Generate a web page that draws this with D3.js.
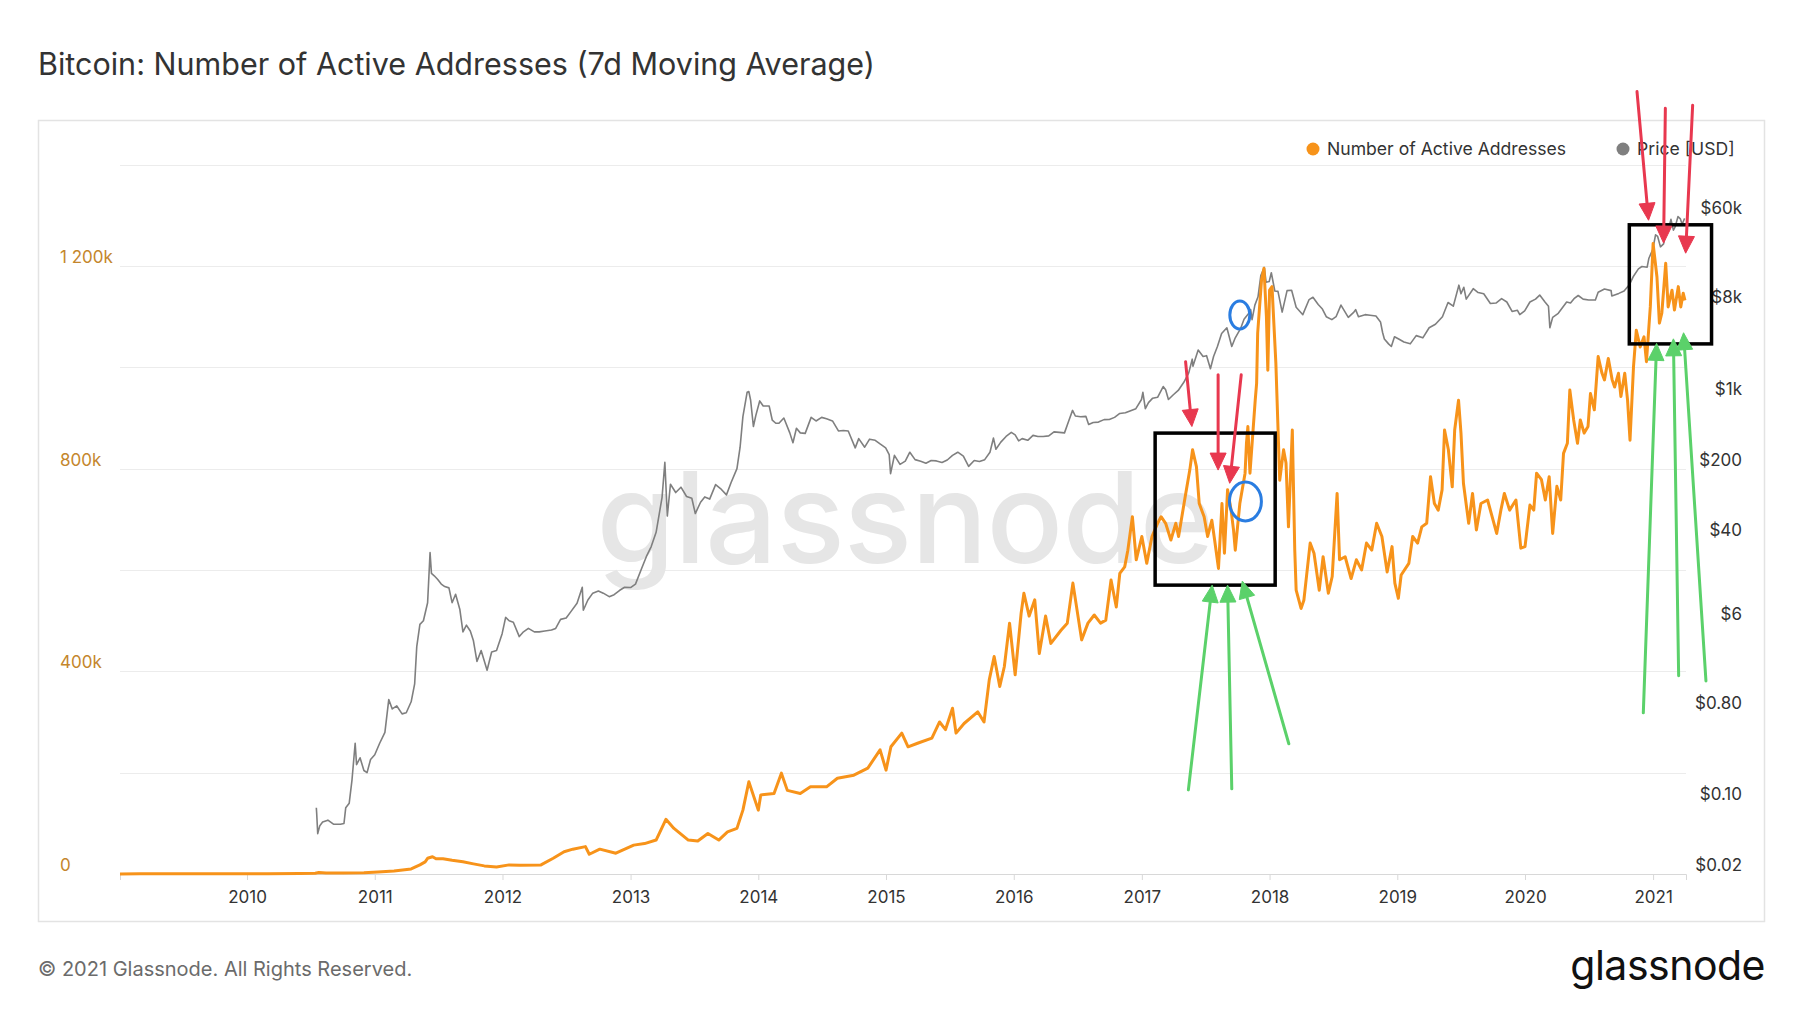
<!DOCTYPE html>
<html>
<head>
<meta charset="utf-8">
<script src="https://cdn.jsdelivr.net/npm/d3@7/dist/d3.min.js"></script>
<style>
  html, body { margin: 0; padding: 0; background: #fff; }
  svg { display: block; font-family: Inter, "Open Sans", "DejaVu Sans", sans-serif; }
</style>
</head>
<body>
<svg id="chart" width="1800" height="1013"></svg>
<script>
// ---------------- DATA ----------------
const YEARS = [2010, 2011, 2012, 2013, 2014, 2015, 2016, 2017, 2018, 2019, 2020, 2021];
const LEFT_TICKS = [0, 400000, 800000, 1200000];
const LEFT_LABELS = ["0", "400k", "800k", "1 200k"];
const GRID_VALUES = [200000, 400000, 600000, 800000, 1000000, 1200000, 1400000];
const RIGHT_TICKS = [0.02, 0.1, 0.8, 6, 40, 200, 1000, 8000, 60000];
const RIGHT_LABELS = ["$0.02", "$0.10", "$0.80", "$6", "$40", "$200", "$1k", "$8k", "$60k"];
const SERIES_NAMES = ["Number of Active Addresses", "Price [USD]"];

// Number of Active Addresses (7d MA)
const activeAddresses = [
  ["2009-01-03", 50], ["2009-03-01", 400], ["2009-06-01", 600], ["2009-09-01", 500], ["2009-12-01", 700],
  ["2010-03-01", 700], ["2010-06-01", 900], ["2010-07-15", 1500], ["2010-07-25", 2800], ["2010-08-15", 1800],
  ["2010-10-01", 2000], ["2010-12-01", 2500], ["2011-01-10", 4000], ["2011-02-25", 6000], ["2011-04-15", 10000],
  ["2011-05-10", 18000], ["2011-05-25", 24000], ["2011-06-01", 31000], ["2011-06-15", 34000], ["2011-06-25", 30000],
  ["2011-07-15", 30000], ["2011-08-10", 27000], ["2011-09-10", 24000], ["2011-10-10", 20000], ["2011-11-10", 16000],
  ["2011-12-15", 14000], ["2012-01-20", 18000], ["2012-02-20", 17500], ["2012-04-20", 18000], ["2012-05-25", 31000],
  ["2012-06-25", 44000], ["2012-07-20", 49000], ["2012-08-25", 54000], ["2012-09-05", 39000], ["2012-10-05", 49000],
  ["2012-11-20", 41000], ["2013-01-10", 57000], ["2013-02-10", 60000], ["2013-03-15", 67000], ["2013-04-12", 108000],
  ["2013-05-05", 90000], ["2013-06-15", 67000], ["2013-07-12", 65000], ["2013-08-10", 80000], ["2013-09-10", 67000],
  ["2013-10-05", 83000], ["2013-11-01", 90000], ["2013-11-18", 126000], ["2013-12-05", 182000], ["2014-01-01", 126000],
  ["2014-01-08", 156000], ["2014-02-15", 159000], ["2014-03-08", 199000], ["2014-03-25", 165000], ["2014-05-01", 159000],
  ["2014-05-30", 172000], ["2014-07-15", 172000], ["2014-08-15", 189000], ["2014-10-01", 195000], ["2014-11-10", 209000],
  ["2014-12-15", 245000], ["2015-01-01", 205000], ["2015-01-15", 251000], ["2015-02-15", 278000], ["2015-03-05", 251000],
  ["2015-04-01", 258000], ["2015-05-12", 268000], ["2015-06-03", 300000], ["2015-06-20", 285000], ["2015-07-10", 327000],
  ["2015-07-20", 278000], ["2015-08-12", 297000], ["2015-09-20", 320000], ["2015-10-08", 300000], ["2015-10-23", 383000],
  ["2015-11-06", 429000], ["2015-11-22", 370000], ["2015-12-05", 409000], ["2015-12-20", 495000], ["2016-01-05", 393000],
  ["2016-01-22", 514000], ["2016-01-30", 554000], ["2016-02-14", 509000], ["2016-03-01", 541000], ["2016-03-14", 435000],
  ["2016-04-01", 509000], ["2016-04-16", 455000], ["2016-05-15", 481000], ["2016-06-02", 495000], ["2016-06-18", 574000],
  ["2016-07-13", 462000], ["2016-07-31", 495000], ["2016-08-18", 511000], ["2016-09-05", 495000], ["2016-09-20", 501000],
  ["2016-10-05", 580000], ["2016-10-20", 527000], ["2016-10-30", 593000], ["2016-11-13", 606000], ["2016-11-22", 639000],
  ["2016-12-05", 705000], ["2016-12-16", 620000], ["2017-01-01", 666000], ["2017-01-15", 613000], ["2017-01-30", 666000],
  ["2017-02-15", 692000], ["2017-02-25", 705000], ["2017-03-10", 692000], ["2017-03-25", 659000], ["2017-04-08", 692000],
  ["2017-04-16", 666000], ["2017-05-05", 745000], ["2017-05-18", 797000], ["2017-05-26", 837000], ["2017-06-06", 804000],
  ["2017-06-14", 731000], ["2017-06-28", 705000], ["2017-07-08", 666000], ["2017-07-20", 698000], ["2017-07-28", 659000],
  ["2017-08-08", 603000], ["2017-08-18", 731000], ["2017-08-25", 633000], ["2017-09-03", 758000], ["2017-09-13", 718000],
  ["2017-09-20", 679000], ["2017-09-25", 639000], ["2017-10-08", 731000], ["2017-10-23", 791000], ["2017-10-27", 850000],
  ["2017-10-31", 883000], ["2017-11-06", 791000], ["2017-11-21", 935000], ["2017-11-25", 968000], ["2017-11-28", 1067000],
  ["2017-12-09", 1172000], ["2017-12-16", 1195000], ["2017-12-23", 1100000], ["2017-12-27", 994000], ["2018-01-01", 1152000],
  ["2018-01-08", 1159000], ["2018-01-19", 1008000], ["2018-01-30", 777000], ["2018-02-10", 837000], ["2018-02-17", 811000],
  ["2018-02-24", 685000], ["2018-03-07", 876000], ["2018-03-14", 639000], ["2018-03-18", 560000], ["2018-04-01", 524000],
  ["2018-04-09", 540000], ["2018-04-27", 653000], ["2018-05-08", 633000], ["2018-05-23", 560000], ["2018-06-03", 626000],
  ["2018-06-18", 554000], ["2018-06-29", 587000], ["2018-07-13", 751000], ["2018-07-20", 620000], ["2018-08-05", 626000],
  ["2018-08-22", 583000], ["2018-09-06", 620000], ["2018-09-21", 600000], ["2018-10-05", 653000], ["2018-10-20", 639000],
  ["2018-11-03", 692000], ["2018-11-18", 666000], ["2018-12-03", 596000], ["2018-12-17", 646000], ["2018-12-25", 574000],
  ["2019-01-04", 544000], ["2019-01-12", 590000], ["2019-02-03", 613000], ["2019-02-14", 666000], ["2019-02-28", 653000],
  ["2019-03-12", 685000], ["2019-03-26", 692000], ["2019-04-06", 784000], ["2019-04-17", 731000], ["2019-04-28", 718000],
  ["2019-05-09", 758000], ["2019-05-16", 876000], ["2019-05-27", 837000], ["2019-06-07", 764000], ["2019-06-14", 876000],
  ["2019-06-25", 935000], ["2019-07-02", 870000], ["2019-07-09", 771000], ["2019-07-24", 692000], ["2019-08-04", 751000],
  ["2019-08-15", 679000], ["2019-08-28", 731000], ["2019-09-16", 738000], ["2019-10-12", 672000], ["2019-10-24", 718000],
  ["2019-11-03", 751000], ["2019-11-18", 718000], ["2019-12-06", 738000], ["2019-12-20", 643000], ["2020-01-01", 646000],
  ["2020-01-15", 728000], ["2020-01-26", 718000], ["2020-02-03", 791000], ["2020-02-17", 778000], ["2020-02-28", 738000],
  ["2020-03-10", 784000], ["2020-03-20", 672000], ["2020-04-01", 765000], ["2020-04-12", 738000], ["2020-04-20", 830000],
  ["2020-05-01", 850000], ["2020-05-08", 955000], ["2020-05-19", 896000], ["2020-05-30", 850000], ["2020-06-07", 896000],
  ["2020-06-18", 870000], ["2020-06-29", 883000], ["2020-07-06", 948000], ["2020-07-17", 916000], ["2020-07-28", 1021000],
  ["2020-08-08", 988000], ["2020-08-15", 975000], ["2020-08-26", 1017000], ["2020-09-06", 975000], ["2020-09-13", 961000],
  ["2020-09-24", 988000], ["2020-10-01", 942000], ["2020-10-12", 988000], ["2020-10-20", 935000], ["2020-10-27", 856000],
  ["2020-11-06", 1001000], ["2020-11-14", 1073000], ["2020-11-25", 1040000], ["2020-12-06", 1060000], ["2020-12-13", 1011000],
  ["2020-12-24", 1119000], ["2021-01-01", 1244000], ["2021-01-12", 1178000], ["2021-01-19", 1087000], ["2021-01-26", 1107000],
  ["2021-02-06", 1205000], ["2021-02-13", 1119000], ["2021-02-24", 1152000], ["2021-03-03", 1113000], ["2021-03-14", 1159000],
  ["2021-03-21", 1119000], ["2021-03-28", 1146000], ["2021-04-02", 1132000]
];

// Price [USD]
const price = [
  ["2010-07-18", 0.09], ["2010-07-19", 0.08], ["2010-07-22", 0.05], ["2010-07-28", 0.06], ["2010-08-05", 0.065],
  ["2010-08-20", 0.068], ["2010-09-05", 0.062], ["2010-09-25", 0.062], ["2010-10-05", 0.063], ["2010-10-10", 0.09],
  ["2010-10-20", 0.10], ["2010-10-28", 0.17], ["2010-11-06", 0.39], ["2010-11-10", 0.24], ["2010-11-20", 0.28],
  ["2010-12-01", 0.21], ["2010-12-10", 0.20], ["2010-12-20", 0.27], ["2011-01-01", 0.30], ["2011-01-15", 0.39],
  ["2011-01-30", 0.50], ["2011-02-10", 1.05], ["2011-02-20", 0.85], ["2011-03-05", 0.91], ["2011-03-20", 0.76],
  ["2011-04-01", 0.78], ["2011-04-15", 1.00], ["2011-04-25", 1.50], ["2011-05-01", 3.5], ["2011-05-10", 5.8],
  ["2011-05-20", 6.3], ["2011-06-01", 9.5], ["2011-06-08", 29.6], ["2011-06-12", 18.5], ["2011-06-20", 17.5],
  ["2011-06-30", 16.1], ["2011-07-10", 14.5], ["2011-07-20", 13.7], ["2011-08-01", 13.3], ["2011-08-10", 9.5],
  ["2011-08-20", 11.5], ["2011-09-01", 8.2], ["2011-09-10", 4.9], ["2011-09-20", 5.7], ["2011-10-01", 5.0],
  ["2011-10-10", 4.0], ["2011-10-20", 2.5], ["2011-11-01", 3.2], ["2011-11-18", 2.05], ["2011-12-01", 3.1],
  ["2011-12-15", 3.2], ["2011-12-31", 4.7], ["2012-01-10", 6.8], ["2012-01-20", 6.3], ["2012-02-01", 6.1],
  ["2012-02-18", 4.4], ["2012-03-01", 4.9], ["2012-03-15", 5.3], ["2012-04-01", 4.9], ["2012-04-15", 4.9],
  ["2012-05-01", 5.0], ["2012-05-20", 5.1], ["2012-06-01", 5.3], ["2012-06-15", 6.5], ["2012-07-01", 6.7],
  ["2012-07-15", 7.8], ["2012-08-01", 9.4], ["2012-08-16", 13.5], ["2012-08-19", 8.0], ["2012-09-01", 10.1],
  ["2012-09-15", 11.8], ["2012-10-01", 12.4], ["2012-10-15", 11.8], ["2012-11-01", 10.9], ["2012-11-15", 11.4],
  ["2012-12-01", 12.6], ["2012-12-15", 13.5], ["2013-01-01", 13.4], ["2013-01-15", 14.5], ["2013-02-01", 20.4],
  ["2013-02-15", 27], ["2013-03-01", 34], ["2013-03-15", 47], ["2013-04-01", 104], ["2013-04-09", 230],
  ["2013-04-16", 68], ["2013-04-25", 140], ["2013-05-10", 116], ["2013-05-25", 131], ["2013-06-10", 106],
  ["2013-06-25", 102], ["2013-07-05", 72], ["2013-07-20", 93], ["2013-08-01", 105], ["2013-08-15", 100],
  ["2013-09-01", 139], ["2013-09-15", 127], ["2013-10-02", 110], ["2013-10-15", 145], ["2013-11-01", 200],
  ["2013-11-10", 325], ["2013-11-18", 650], ["2013-11-30", 1130], ["2013-12-05", 1150], ["2013-12-10", 950],
  ["2013-12-18", 520], ["2013-12-25", 670], ["2014-01-05", 930], ["2014-01-15", 830], ["2014-02-01", 830],
  ["2014-02-10", 600], ["2014-02-20", 560], ["2014-03-01", 560], ["2014-03-15", 630], ["2014-04-01", 450],
  ["2014-04-10", 360], ["2014-04-20", 500], ["2014-05-01", 450], ["2014-05-15", 445], ["2014-06-01", 640],
  ["2014-06-15", 590], ["2014-07-01", 640], ["2014-07-15", 620], ["2014-08-01", 590], ["2014-08-18", 470],
  ["2014-09-01", 475], ["2014-09-15", 470], ["2014-10-05", 320], ["2014-10-15", 395], ["2014-11-01", 325],
  ["2014-11-15", 390], ["2014-12-01", 380], ["2014-12-15", 350], ["2014-12-31", 320], ["2015-01-10", 275],
  ["2015-01-14", 178], ["2015-01-25", 270], ["2015-02-10", 220], ["2015-02-25", 237], ["2015-03-10", 290],
  ["2015-03-25", 245], ["2015-04-10", 236], ["2015-04-25", 226], ["2015-05-10", 240], ["2015-05-25", 238],
  ["2015-06-10", 230], ["2015-06-25", 243], ["2015-07-10", 270], ["2015-07-25", 290], ["2015-08-10", 265],
  ["2015-08-25", 210], ["2015-09-10", 240], ["2015-09-25", 235], ["2015-10-10", 245], ["2015-10-25", 290],
  ["2015-11-04", 400], ["2015-11-11", 310], ["2015-11-25", 365], ["2015-12-10", 415], ["2015-12-25", 455],
  ["2016-01-05", 430], ["2016-01-15", 375], ["2016-01-25", 395], ["2016-02-10", 380], ["2016-02-25", 425],
  ["2016-03-10", 415], ["2016-03-25", 415], ["2016-04-10", 420], ["2016-04-25", 460], ["2016-05-10", 455],
  ["2016-05-25", 450], ["2016-06-05", 575], ["2016-06-17", 750], ["2016-06-25", 660], ["2016-07-10", 650],
  ["2016-07-25", 655], ["2016-08-02", 545], ["2016-08-15", 570], ["2016-08-30", 575], ["2016-09-15", 608],
  ["2016-09-30", 610], ["2016-10-15", 640], ["2016-10-30", 700], ["2016-11-15", 710], ["2016-11-30", 745],
  ["2016-12-15", 780], ["2016-12-31", 960], ["2017-01-04", 1130], ["2017-01-11", 780], ["2017-01-20", 895],
  ["2017-02-01", 990], ["2017-02-15", 1010], ["2017-03-03", 1290], ["2017-03-10", 1200], ["2017-03-18", 960],
  ["2017-04-01", 1070], ["2017-04-15", 1180], ["2017-05-01", 1420], ["2017-05-15", 1760], ["2017-05-25", 2400],
  ["2017-05-27", 2050], ["2017-06-11", 2950], ["2017-06-25", 2550], ["2017-07-05", 2600], ["2017-07-16", 1930],
  ["2017-07-25", 2550], ["2017-08-05", 3200], ["2017-08-17", 4300], ["2017-09-01", 4900], ["2017-09-15", 3200],
  ["2017-09-25", 3900], ["2017-10-10", 4800], ["2017-10-20", 5950], ["2017-11-01", 6700], ["2017-11-08", 7400],
  ["2017-11-12", 5900], ["2017-11-20", 8200], ["2017-11-29", 9900], ["2017-12-07", 16000], ["2017-12-17", 19300],
  ["2017-12-22", 13800], ["2017-12-31", 14000], ["2018-01-06", 17100], ["2018-01-16", 11300], ["2018-01-25", 11200],
  ["2018-02-06", 7000], ["2018-02-20", 11400], ["2018-03-05", 11500], ["2018-03-18", 7800], ["2018-04-01", 6900],
  ["2018-04-06", 6600], ["2018-04-24", 9300], ["2018-05-05", 9800], ["2018-05-20", 8300], ["2018-06-01", 7500],
  ["2018-06-12", 6300], ["2018-06-28", 5900], ["2018-07-10", 6300], ["2018-07-24", 8200], ["2018-08-14", 6200],
  ["2018-08-30", 7000], ["2018-09-04", 7400], ["2018-09-12", 6300], ["2018-10-01", 6600], ["2018-10-15", 6500],
  ["2018-11-01", 6400], ["2018-11-14", 5600], ["2018-11-20", 4400], ["2018-11-25", 3800], ["2018-12-07", 3400],
  ["2018-12-15", 3200], ["2018-12-24", 4000], ["2019-01-05", 3800], ["2019-01-20", 3550], ["2019-02-07", 3400],
  ["2019-02-24", 4100], ["2019-03-15", 3900], ["2019-04-02", 4900], ["2019-04-20", 5300], ["2019-05-10", 6300],
  ["2019-05-26", 8700], ["2019-06-10", 8000], ["2019-06-26", 12900], ["2019-07-02", 10600], ["2019-07-10", 12300],
  ["2019-07-17", 9400], ["2019-08-06", 11900], ["2019-08-20", 10900], ["2019-09-05", 10600], ["2019-09-24", 8500],
  ["2019-10-10", 8600], ["2019-10-26", 9500], ["2019-11-10", 8800], ["2019-11-25", 7100], ["2019-12-10", 7300],
  ["2019-12-17", 6600], ["2019-12-31", 7200], ["2020-01-15", 8800], ["2020-01-31", 9400], ["2020-02-12", 10300],
  ["2020-02-27", 8800], ["2020-03-08", 8000], ["2020-03-12", 4900], ["2020-03-20", 6200], ["2020-04-05", 6800],
  ["2020-04-29", 8800], ["2020-05-10", 8600], ["2020-05-20", 9500], ["2020-06-01", 10200], ["2020-06-15", 9400],
  ["2020-07-01", 9200], ["2020-07-20", 9200], ["2020-07-28", 11000], ["2020-08-15", 11800], ["2020-09-03", 11400],
  ["2020-09-05", 10100], ["2020-09-25", 10700], ["2020-10-10", 11300], ["2020-10-25", 13000], ["2020-11-05", 15600],
  ["2020-11-20", 18700], ["2020-11-30", 19700], ["2020-12-15", 19400], ["2020-12-20", 23800], ["2020-12-31", 29000],
  ["2021-01-08", 40500], ["2021-01-14", 39000], ["2021-01-22", 30800], ["2021-01-31", 33000], ["2021-02-08", 46000],
  ["2021-02-15", 47900], ["2021-02-21", 57500], ["2021-02-28", 45000], ["2021-03-05", 48500], ["2021-03-13", 61200],
  ["2021-03-20", 58100], ["2021-03-25", 51500], ["2021-04-01", 58800]
];

// Hand-drawn annotations, in data coordinates (date, left-axis value)
const boxes = [
  { from: ["2017-02-08", 870000], to: ["2018-01-17", 570000] },
  { from: ["2020-10-25", 1281000], to: ["2021-06-17", 1046000] }
];
const redArrows = [
  { from: ["2017-05-06", 1011000], to: ["2017-05-24", 883000] },
  { from: ["2017-08-07", 985000], to: ["2017-08-07", 797000] },
  { from: ["2017-10-12", 985000], to: ["2017-09-09", 771000] },
  { from: ["2020-11-16", 1544000], to: ["2020-12-19", 1290000] },
  { from: ["2021-02-05", 1511000], to: ["2021-01-31", 1245000] },
  { from: ["2021-04-24", 1517000], to: ["2021-04-04", 1225000] }
];
const greenArrows = [
  { from: ["2017-05-14", 166000], to: ["2017-07-21", 570000] },
  { from: ["2017-09-15", 168000], to: ["2017-09-03", 570000] },
  { from: ["2018-02-25", 257000], to: ["2017-10-15", 578000] },
  { from: ["2020-12-04", 318000], to: ["2021-01-11", 1047000] },
  { from: ["2021-03-15", 391000], to: ["2021-02-28", 1056000] },
  { from: ["2021-06-01", 381000], to: ["2021-03-29", 1068000] }
];
const blueEllipses = [
  { at: ["2017-10-08", 1103000], rx: 10, ry: 14 },
  { at: ["2017-10-24", 735000], rx: 16, ry: 19.5 }
];

// ---------------- CHART ----------------
const svg = d3.select("#chart");
const parse = d3.utcParse("%Y-%m-%d");

const plot = { left: 120, right: 1686, top: 164.5, bottom: 874 };

const x = d3.scaleUtc()
  .domain([parse("2009-01-03"), parse("2021-04-05")])
  .range([plot.left, plot.right]);
const yL = d3.scaleLinear().domain([0, 1400000]).range([plot.bottom, plot.top]);
const yR = d3.scaleLog().domain([0.02, 200000]).range([plot.bottom, plot.top]);

const ORANGE = "#f7931a";
const GREY = "#7f7f7f";

// Title
svg.append("text")
  .attr("x", 38).attr("y", 75)
  .attr("font-size", 30.5).attr("font-weight", 400).attr("fill", "#333")
  .text("Bitcoin: Number of Active Addresses (7d Moving Average)");

// Frame
svg.append("rect")
  .attr("x", 38.5).attr("y", 120.5).attr("width", 1726).attr("height", 801)
  .attr("fill", "none").attr("stroke", "#e3e3e3").attr("stroke-width", 1.5);

// Gridlines
svg.append("g").selectAll("line").data(GRID_VALUES).join("line")
  .attr("x1", plot.left).attr("x2", plot.right)
  .attr("y1", d => Math.round(yL(d)) + 0.5).attr("y2", d => Math.round(yL(d)) + 0.5)
  .attr("stroke", "#ececec").attr("stroke-width", 1);

// Watermark
svg.append("text")
  .attr("x", 905).attr("y", 563)
  .attr("text-anchor", "middle")
  .attr("font-size", 127).attr("font-weight", 500)
  .attr("fill", "#e6e6e6")
  .attr("letter-spacing", -1)
  .text("glassnode");

// X axis
const xAxis = d3.axisBottom(x)
  .tickValues(YEARS.map(yr => parse(yr + "-01-01")))
  .tickFormat(d3.utcFormat("%Y"))
  .tickSize(6);
const gx = svg.append("g").attr("transform", `translate(0,${plot.bottom})`).call(xAxis);
gx.select(".domain").attr("stroke", "#d8d8d8");
gx.selectAll(".tick line").attr("stroke", "#d8d8d8");
gx.selectAll(".tick text")
  .attr("y", 23).attr("dy", "0.35em")
  .attr("font-size", 17).attr("fill", "#333")
  .attr("font-family", "Inter, 'Open Sans', sans-serif");

// Left axis labels
svg.append("g").selectAll("text").data(LEFT_TICKS).join("text")
  .attr("x", 60).attr("y", d => yL(d) - 9).attr("dy", "0.35em")
  .attr("font-size", 17).attr("fill", "#c4862c")
  .text((d, i) => LEFT_LABELS[i]);

// Right axis labels
svg.append("g").selectAll("text").data(RIGHT_TICKS).join("text")
  .attr("x", 1742).attr("y", d => yR(d) - 9).attr("dy", "0.35em")
  .attr("text-anchor", "end")
  .attr("font-size", 17).attr("fill", "#333")
  .text((d, i) => RIGHT_LABELS[i]);

// Lines
const priceLine = d3.line().x(d => x(parse(d[0]))).y(d => yR(d[1]));
const addrLine = d3.line().x(d => x(parse(d[0]))).y(d => yL(d[1]));

svg.append("path").datum(price)
  .attr("d", priceLine).attr("fill", "none")
  .attr("stroke", GREY).attr("stroke-width", 1.6).attr("stroke-linejoin", "round");

svg.append("path").datum(activeAddresses)
  .attr("d", addrLine).attr("fill", "none")
  .attr("stroke", ORANGE).attr("stroke-width", 3).attr("stroke-linejoin", "round");

// Legend
const legend = svg.append("g");
const legendItems = [
  { name: SERIES_NAMES[0], color: ORANGE, cx: 1313 },
  { name: SERIES_NAMES[1], color: GREY, cx: 1623 }
];
legendItems.forEach(it => {
  legend.append("circle").attr("cx", it.cx).attr("cy", 149).attr("r", 6.5).attr("fill", it.color);
  legend.append("text").attr("x", it.cx + 14).attr("y", 149).attr("dy", "0.35em")
    .attr("font-size", 17.6).attr("fill", "#333").text(it.name);
});

// Annotations
const P = p => [x(parse(p[0])), yL(p[1])];
const ann = svg.append("g");

boxes.forEach(b => {
  const [x0, y0] = P(b.from), [x1, y1] = P(b.to);
  ann.append("rect")
    .attr("x", Math.min(x0, x1)).attr("y", Math.min(y0, y1))
    .attr("width", Math.abs(x1 - x0)).attr("height", Math.abs(y1 - y0))
    .attr("fill", "none").attr("stroke", "#000").attr("stroke-width", 3.5);
});

function arrow(a, color) {
  const [x0, y0] = P(a.from), [x1, y1] = P(a.to);
  const dx = x1 - x0, dy = y1 - y0, len = Math.hypot(dx, dy);
  const ux = dx / len, uy = dy / len;
  const headLen = 17, headW = 8;
  const bx = x1 - ux * headLen, by = y1 - uy * headLen;
  ann.append("line")
    .attr("x1", x0).attr("y1", y0).attr("x2", bx + ux * 2).attr("y2", by + uy * 2)
    .attr("stroke", color).attr("stroke-width", 3).attr("stroke-linecap", "round");
  ann.append("path")
    .attr("d", `M${x1},${y1} L${bx - uy * headW},${by + ux * headW} L${bx + uy * headW},${by - ux * headW} Z`)
    .attr("fill", color).attr("stroke", color).attr("stroke-width", 1).attr("stroke-linejoin", "round");
}
redArrows.forEach(a => arrow(a, "#e8384f"));
greenArrows.forEach(a => arrow(a, "#5bd16a"));

blueEllipses.forEach(e => {
  const [cx, cy] = P(e.at);
  ann.append("ellipse")
    .attr("cx", cx).attr("cy", cy).attr("rx", e.rx).attr("ry", e.ry)
    .attr("fill", "none").attr("stroke", "#2a7de1").attr("stroke-width", 3);
});

// Footer
svg.append("text")
  .attr("x", 38).attr("y", 976)
  .attr("font-size", 20).attr("fill", "#6b6b6b")
  .text("© 2021 Glassnode. All Rights Reserved.");

svg.append("text")
  .attr("x", 1765).attr("y", 980)
  .attr("text-anchor", "end")
  .attr("font-size", 41).attr("font-weight", 400).attr("fill", "#111")
  .attr("letter-spacing", -0.5)
  .text("glassnode");
</script>
</body>
</html>
